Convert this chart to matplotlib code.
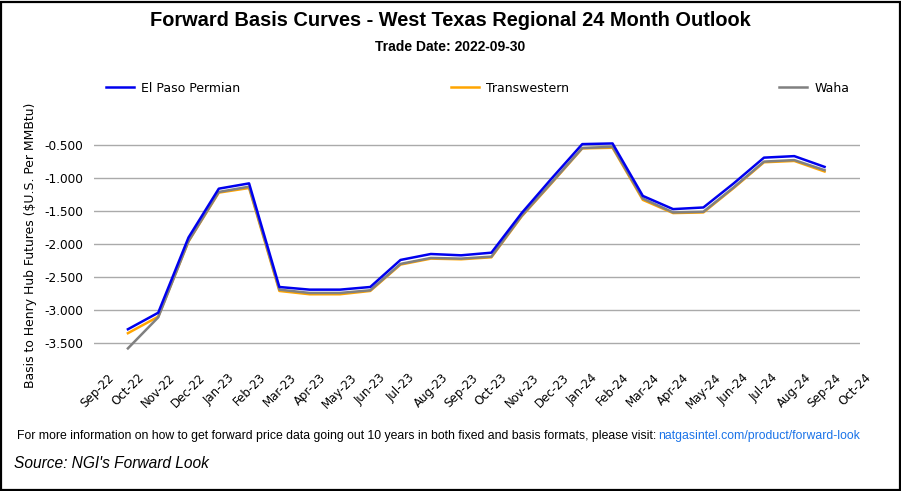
import matplotlib
matplotlib.use("Agg")
import matplotlib.pyplot as plt
from matplotlib.patches import Rectangle

months = ["Sep-22", "Oct-22", "Nov-22", "Dec-22", "Jan-23", "Feb-23", "Mar-23", "Apr-23",
          "May-23", "Jun-23", "Jul-23", "Aug-23", "Sep-23", "Oct-23", "Nov-23", "Dec-23",
          "Jan-24", "Feb-24", "Mar-24", "Apr-24", "May-24", "Jun-24", "Jul-24", "Aug-24",
          "Sep-24", "Oct-24"]
data_months = months[1:25]

el_paso = [-3.29, -3.04, -1.90, -1.16, -1.08, -2.65, -2.69, -2.69, -2.65, -2.24, -2.15, -2.17,
           -2.13, -1.53, -1.00, -0.485, -0.475, -1.27, -1.47, -1.445, -1.08, -0.69, -0.667, -0.83]
transwestern = [-3.35, -3.10, -1.96, -1.22, -1.15, -2.71, -2.76, -2.76, -2.71, -2.31, -2.22, -2.23,
                -2.20, -1.58, -1.07, -0.55, -0.54, -1.33, -1.53, -1.52, -1.15, -0.76, -0.74, -0.90]
waha = [-3.58, -3.11, -1.955, -1.21, -1.13, -2.69, -2.74, -2.74, -2.70, -2.30, -2.21, -2.22,
        -2.19, -1.57, -1.06, -0.545, -0.525, -1.31, -1.52, -1.51, -1.14, -0.75, -0.727, -0.88]
yticks = [-0.5, -1.0, -1.5, -2.0, -2.5, -3.0, -3.5]

W, H = 901, 491
fig = plt.figure(figsize=(W / 100, H / 100), dpi=100)
fig.patches.append(Rectangle((1 / W, 1 / H), 1 - 2.5 / W, 1 - 2.5 / H, transform=fig.transFigure,
                             fill=False, edgecolor="black", linewidth=1.6))

ax = fig.add_axes([94 / W, 1 - 353 / H, (860 - 94) / W, (353 - 122) / H])
xpos = {m: i for i, m in enumerate(months)}
xd = [xpos[m] for m in data_months]
l_tw, = ax.plot(xd, transwestern, color="#FFA500", lw=1.8, label="Transwestern", zorder=3)
l_wa, = ax.plot(xd, waha, color="#808080", lw=1.8, label="Waha", zorder=4)
l_ep, = ax.plot(xd, el_paso, color="#0000EE", lw=1.8, label="El Paso Permian", zorder=5)

ax.set_xlim(-0.12, 25.17)
ax.set_ylim(-3.65, -0.15)
ax.set_yticks(yticks)
ax.set_yticklabels([f"{v:.3f}" for v in yticks], fontsize=8.7, family="DejaVu Sans")
ax.set_xticks(range(len(months)))
ax.set_xticklabels(months, rotation=45, ha="center", va="top", fontsize=8.5,
                   family="DejaVu Sans")
ax.tick_params(axis="y", length=0, pad=8)
ax.tick_params(axis="x", length=0, pad=13)
ax.grid(axis="y", color="#AAAAAA", lw=1)
for s in ax.spines.values():
    s.set_visible(False)
ax.set_ylabel("Basis to Henry Hub Futures ($U.S. Per MMBtu)", fontsize=8.9, family="DejaVu Sans")
ax.yaxis.set_label_coords((37 - 94) / (860 - 94), 0.465)

fig.text(450 / W, 1 - 21 / H, "Forward Basis Curves - West Texas Regional 24 Month Outlook",
         ha="center", va="center", fontsize=14.4, fontweight="bold", family="Liberation Sans")
fig.text(450 / W, 1 - 47 / H, "Trade Date: 2022-09-30", ha="center", va="center",
         fontsize=10, fontweight="bold", family="Liberation Sans")

for line, x in [(l_ep, 100), (l_tw, 445), (l_wa, 773)]:
    fig.legend(handles=[line], loc="center left", bbox_to_anchor=(x / W, 1 - 88 / H),
               frameon=False, handlelength=2.2, handletextpad=0.6, borderpad=0,
               prop={"family": "DejaVu Sans", "size": 9})

fig.text(17 / W, 1 - 436 / H,
         "For more information on how to get forward price data going out 10 years in both fixed and basis formats, please visit: ",
         ha="left", va="center", fontsize=8.85, family="Liberation Sans")
fig.text(860 / W, 1 - 436 / H, "natgasintel.com/product/forward-look", ha="right", va="center",
         fontsize=8.85, family="Liberation Sans", color="#1A73E8")
fig.text(14 / W, 1 - 463 / H, "Source: NGI's Forward Look", ha="left", va="center",
         fontsize=11.2, style="italic", family="Liberation Sans")

fig.savefig("out.png", dpi=100)
